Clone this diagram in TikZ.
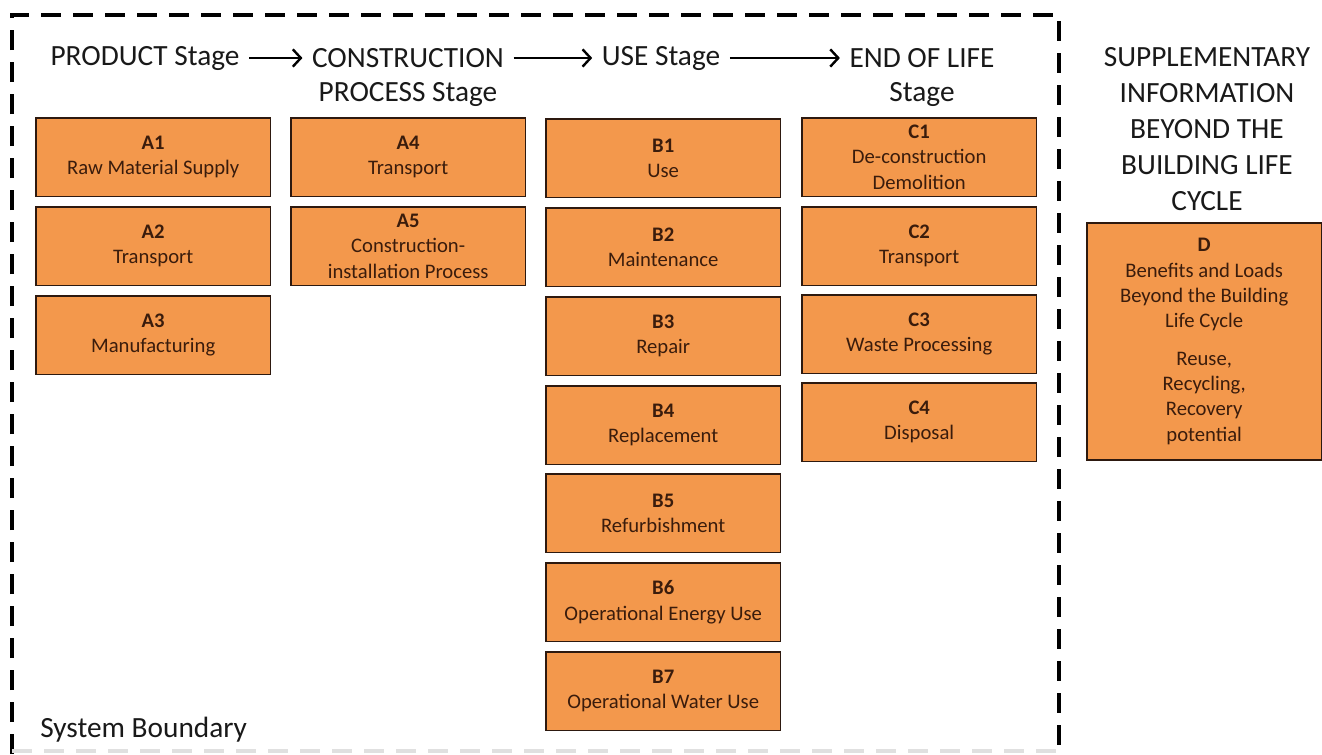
\documentclass[tikz,border=0pt]{standalone}
\usepackage{fontspec}
\setmainfont{Carlito}
\usetikzlibrary{arrows.meta}
\definecolor{boxfill}{RGB}{243,152,76}
\definecolor{boxtext}{RGB}{58,28,12}
\definecolor{boxline}{RGB}{45,25,15}
\definecolor{headtext}{RGB}{25,25,25}
\begin{document}
\begin{tikzpicture}[x=0.75pt,y=-0.75pt,
  stagebox/.style={draw=boxline, line width=1.3pt, fill=boxfill, text=boxtext,
    minimum width=176pt, align=center, font=\fontsize{15.5}{19}\selectfont,
    inner sep=0pt, anchor=north west},
  heading/.style={font=\fontsize{22}{27}\selectfont, align=center, inner sep=7pt, text=headtext},
  flow/.style={-{Straight Barb[length=6pt,width=13pt,line width=1.8pt]}, line width=1.8pt},
  boundary/.style={line width=3pt, dash pattern=on 15pt off 9pt},
]
\useasboundingbox (0,0) rectangle (1322,754);

% system boundary
\draw[boundary] (12,754) -- (12,15) -- (1059,15) -- (1059,754);
\draw[boundary, black!12] (12,751) -- (1059,751);
\node[font=\fontsize{22}{24}\selectfont, anchor=base west, inner sep=0pt, text=headtext] (sb) at (40,737) {System Boundary};

% headings
\node[heading] (prod) at (145,58) {PRODUCT Stage};
\node[heading] (cons) at (408,58) {CONSTRUCTION};
\node[heading] (cons2) at (408,94) {PROCESS Stage};
\node[heading] (use) at (661,58) {USE Stage};
\node[heading] (eol) at (922,58) {END OF LIFE};
\node[heading] (eol2) at (922,94) {Stage};
\node[heading, inner sep=0pt] (supp) at (1207,129) {SUPPLEMENTARY\\INFORMATION\\BEYOND THE\\BUILDING LIFE\\CYCLE};

\draw[flow] (prod.east) -- (cons.west);
\draw[flow] (cons.east) -- (use.west);
\draw[flow] (use.east) -- (eol.west);

% product stage
\node[stagebox, minimum height=59pt] (A1) at (35,117) {\textbf{A1}\\Raw Material Supply};
\node[stagebox, minimum height=59pt] (A2) at (35,206) {\textbf{A2}\\Transport};
\node[stagebox, minimum height=59pt] (A3) at (35,295) {\textbf{A3}\\Manufacturing};

% construction process stage
\node[stagebox, minimum height=59pt] (A4) at (290,117) {\textbf{A4}\\Transport};
\node[stagebox, minimum height=59pt] (A5) at (290,206) {\textbf{A5}\\Construction-\\installation Process};

% use stage
\node[stagebox, minimum height=59pt] (B1) at (545,118) {\textbf{B1}\\Use};
\node[stagebox, minimum height=59pt] (B2) at (545,207) {\textbf{B2}\\Maintenance};
\node[stagebox, minimum height=59pt] (B3) at (545,296) {\textbf{B3}\\Repair};
\node[stagebox, minimum height=59pt] (B4) at (545,385) {\textbf{B4}\\Replacement};
\node[stagebox, minimum height=59pt] (B5) at (545,473) {\textbf{B5}\\Refurbishment};
\node[stagebox, minimum height=59pt] (B6) at (545,562) {\textbf{B6}\\Operational Energy Use};
\node[stagebox, minimum height=59pt] (B7) at (545,651) {\textbf{B7}\\Operational Water Use};

% end of life stage
\node[stagebox, minimum height=59pt] (C1) at (801,117) {\textbf{C1}\\De-construction\\Demolition};
\node[stagebox, minimum height=59pt] (C2) at (801,206) {\textbf{C2}\\Transport};
\node[stagebox, minimum height=59pt] (C3) at (801,294) {\textbf{C3}\\Waste Processing};
\node[stagebox, minimum height=59pt] (C4) at (801,382) {\textbf{C4}\\Disposal};

% supplementary
\node[stagebox, minimum height=178pt] (D) at (1086,222) {\textbf{D}\\Benefits and Loads\\Beyond the Building\\Life Cycle\\[9pt]Reuse,\\Recycling,\\Recovery\\potential};
\end{tikzpicture}
\end{document}
